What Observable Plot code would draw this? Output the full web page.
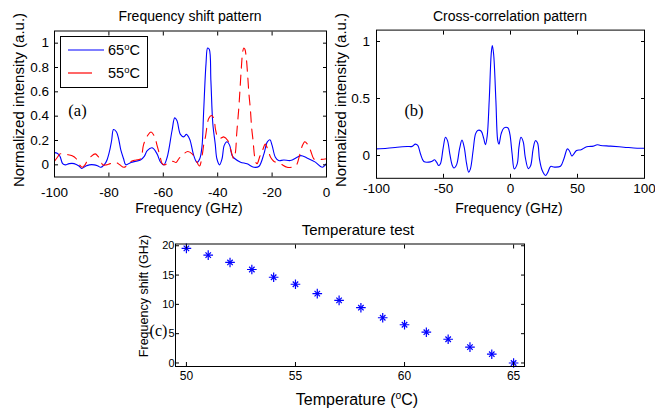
<!DOCTYPE html>
<html><head><meta charset="utf-8">
<script src="https://cdn.jsdelivr.net/npm/d3@7"></script>
<script src="https://cdn.jsdelivr.net/npm/@observablehq/plot@0.6"></script>
<style>
body{margin:0;background:#fff;}
#root{position:relative;width:655px;height:413px;background:#fff;font-family:"Liberation Sans",Arial,sans-serif;color:#000;overflow:hidden}
.abs{position:absolute;white-space:nowrap;line-height:1}
.c{transform:translate(-50%,-50%)}
.r{transform:translate(-50%,-50%) rotate(-90deg)}
.serif{font-family:"Liberation Serif","DejaVu Serif",serif}
#root svg{position:absolute}
sup{font-size:0.65em;vertical-align:0.55em;line-height:0}
</style></head><body><div id="root"></div>
<script>
// ---------- Panel (a): frequency shift pattern ----------
const freqA65 = [-100,-99,-98,-97,-96,-94.6,-92.8,-91,-90,-88.5,-87.2,-85.4,-84,-83,-81.1,-79.9,-79,-78.3,-77.2,-76.3,-75.6,-74.6,-73.8,-71.9,-70,-68.4,-67,-65.9,-64.1,-62.3,-61,-59.8,-58.6,-56.8,-55.8,-55,-53.7,-52.5,-51.5,-50.3,-48.8,-47.6,-46.6,-45.8,-45.2,-44.3,-43.7,-43.1,-42.5,-41.8,-40.9,-40.3,-39.3,-38.4,-37.6,-36.6,-35.6,-34.7,-33.9,-31.6,-29.2,-26.7,-24.9,-23,-21.8,-20.8,-20,-18.8,-17.6,-15.7,-13.3,-10.8,-9.4,-7.2,-4.1,-1.6,0];
const intA65  = [0.10,0.095,0.07,0.01,0.0,0.01,0.01,-0.01,-0.03,-0.01,0.0,0.0,-0.01,-0.02,0.02,0.10,0.2,0.29,0.27,0.2,0.12,0.05,0.0,0.02,0.03,0.04,0.07,0.117,0.14,0.09,0.021,0.0,0.06,0.28,0.386,0.364,0.25,0.23,0.25,0.21,0.076,0.02,0.05,0.145,0.42,0.83,0.96,0.95,0.69,0.34,0.17,0.05,0.0,0.05,0.16,0.19,0.16,0.076,0.054,0.022,0.008,-0.02,-0.014,0.09,0.187,0.206,0.16,0.062,0.035,0.04,0.035,0.062,0.076,0.057,0.022,-0.02,0.013];
const freqA55 = [-100,-99,-98,-97,-95.5,-93.5,-92,-90.8,-89.8,-88.8,-88,-86.5,-85,-84,-83,-82.3,-81,-79.5,-77.5,-76,-74.5,-73,-71.7,-70,-68.4,-67.2,-65.8,-64.5,-63.2,-62.3,-61.2,-60.4,-59.5,-58,-56.5,-55.3,-54.3,-52.5,-51,-49.4,-48,-46.7,-45.7,-45.1,-44.5,-43.3,-42.3,-41.4,-40.8,-39.8,-38.8,-37.8,-36.3,-35.3,-34.1,-33.5,-33,-32.3,-31.8,-31.3,-30.8,-30.4,-30,-29.5,-29,-28.5,-28,-27.5,-27,-26.5,-26,-25.5,-24.5,-23.5,-22.5,-21.5,-20.5,-19.4,-17,-14.5,-12.1,-11,-10,-9,-8,-7,-5.9,-4.7,-4.1,-2,0];
const intA55  = [0.03,0.06,0.09,0.09,0.085,0.075,0.05,0.0,-0.02,0.0,0.03,0.07,0.09,0.07,0.04,0.0,0.0,0.01,0.02,0.0,-0.02,0.0,0.03,0.04,0.05,0.17,0.24,0.27,0.23,0.16,0.07,0.01,0.0,0.02,0.03,0.02,0.05,0.09,0.11,0.09,0.04,-0.01,0.08,0.17,0.23,0.38,0.405,0.38,0.29,0.22,0.22,0.23,0.2,0.13,0.05,0.1,0.26,0.45,0.62,0.8,0.93,0.96,0.95,0.88,0.74,0.58,0.46,0.3,0.2,0.08,0.02,0.01,0.07,0.12,0.17,0.12,0.06,0.03,0.01,-0.02,-0.015,0.0,0.07,0.15,0.19,0.17,0.12,0.05,0.045,0.045,0.05];
const seriesTempsA = [65, 55];
const ticksAX = [-100,-80,-60,-40,-20,0];
const ticksAY = [0,0.2,0.4,0.6,0.8,1];

// ---------- Panel (b): cross-correlation pattern ----------
const freqB = [-100,-92,-84.6,-77.1,-73.4,-71,-69.2,-67.2,-64.7,-60.9,-58.5,-56.7,-55.2,-53.5,-52.2,-50.2,-48.5,-47,-45.3,-43.5,-42.2,-40.2,-38,-36.2,-34.5,-32.8,-31.2,-29.9,-27.9,-26.1,-24.5,-22,-20,-18.7,-17.4,-15.9,-14.4,-13.6,-12.6,-10.9,-9.5,-8.6,-7,-5,-2,-0.5,1.2,2.8,5,6.3,7.8,9.5,11,13.3,15,16.9,18.6,20.2,21.6,23.6,26.1,27.9,29.9,32.8,37.3,39.8,42.5,44,45.8,47.3,49.3,52.7,56,58.5,61.7,64.7,67.2,74.6,84.6,94.5,100];
const intB  = [0.058,0.064,0.073,0.079,0.08,0.10,0.088,0.015,-0.053,-0.058,-0.05,-0.038,-0.058,-0.088,-0.07,0.07,0.16,0.13,0.015,-0.085,-0.11,-0.08,0.06,0.135,0.07,-0.07,-0.146,-0.117,0.044,0.19,0.22,0.215,0.15,0.095,0.17,0.48,0.89,0.965,0.89,0.48,0.13,0.10,0.19,0.24,0.243,0.19,0.015,-0.117,-0.073,0.073,0.16,0.12,-0.015,-0.115,-0.09,0.058,0.13,0.11,-0.03,-0.13,-0.175,-0.146,-0.096,-0.102,-0.094,-0.03,0.058,0.04,-0.005,0.015,0.044,0.05,0.073,0.079,0.082,0.094,0.088,0.082,0.073,0.064,0.064];
const ticksBX = [-100,-50,0,50,100];
const ticksBY = [0,0.5,1];

// ---------- Panel (c): temperature test ----------
const temps  = [50,51,52,53,54,55,56,57,58,59,60,61,62,63,64,65];
const shifts = [19.55,18.4,17.15,15.95,14.63,13.43,11.83,10.68,9.43,7.72,6.52,5.25,4.05,2.7,1.5,0];
const ticksCX = [50,55,60,65];
const ticksCY = [0,5,10,15,20];

const root = document.getElementById("root");
const FONT = "'Liberation Sans', Arial, sans-serif";
const fmt = d => String(d);
const blank = () => "";

function boxAxes(tx, ty, o) {
  return [
    Plot.frame({stroke: "#000", strokeWidth: 1}),
    Plot.axisX(tx, {anchor: "bottom", tickSize: -4, tickPadding: o.xPad, tickFormat: fmt, label: null, fontSize: o.xFont}),
    Plot.axisX(tx, {anchor: "top", tickSize: -4, tickFormat: blank, label: null}),
    Plot.axisY(ty, {anchor: "left", tickSize: -4, tickPadding: o.yPad, tickFormat: fmt, label: null, fontSize: o.yFont}),
    Plot.axisY(ty, {anchor: "right", tickSize: -4, tickFormat: blank, label: null})
  ];
}

function place(svg, left, top) {
  svg.style.left = left + "px";
  svg.style.top = top + "px";
  root.appendChild(svg);
}

// Panel A
const dA65 = freqA65.map((f, i) => ({f, v: intA65[i]}));
const dA55 = freqA55.map((f, i) => ({f, v: intA55[i]}));
const pA = Plot.plot({
  width: 340, height: 220,
  marginLeft: 54, marginRight: 14, marginTop: 30.5, marginBottom: 43.5,
  style: {fontFamily: FONT, fontSize: "13.5px", background: "transparent", color: "#000", overflow: "visible"},
  x: {domain: [-100, 0]},
  y: {domain: [-0.1, 1.1]},
  marks: [
    Plot.line(dA65, {x: "f", y: "v", stroke: "#0000ff", strokeWidth: 1.1, curve: "catmull-rom"}),
    Plot.line(dA55, {x: "f", y: "v", stroke: "#ff0000", strokeWidth: 1.1, strokeDasharray: "10,7", curve: "catmull-rom"}),
    ...boxAxes(ticksAX, ticksAY, {xPad: 14.5, yPad: 9.5, xFont: 13.5, yFont: 13.5})
  ]
});
place(pA, 0, 0);

// Panel B
const dB = freqB.map((f, i) => ({f, v: intB[i]}));
const pB = Plot.plot({
  width: 325, height: 220,
  marginLeft: 46, marginRight: 11, marginTop: 29.6, marginBottom: 42.2,
  style: {fontFamily: FONT, fontSize: "13.5px", background: "transparent", color: "#000", overflow: "visible"},
  x: {domain: [-100, 100]},
  y: {domain: [-0.2, 1.1]},
  marks: [
    Plot.line(dB, {x: "f", y: "v", stroke: "#0000ff", strokeWidth: 1.1, curve: "catmull-rom"}),
    ...boxAxes(ticksBX, ticksBY, {xPad: 9.5, yPad: 10.5, xFont: 13.5, yFont: 13.5})
  ]
});
place(pB, 330, 0);

// Panel C
const dC = temps.map((t, i) => ({t, s: shifts[i]}));
const pC = Plot.plot({
  width: 400, height: 180,
  marginLeft: 45, marginRight: 6, marginTop: 13.5, marginBottom: 44,
  style: {fontFamily: FONT, fontSize: "12px", background: "transparent", color: "#000", overflow: "visible"},
  x: {domain: [49.5, 65.5]},
  y: {domain: [-0.6, 20.3]},
  marks: [
    Plot.dot(dC, {x: "t", y: "s", symbol: "plus", r: 3.2, stroke: "#0000ff", strokeWidth: 1.2}),
    Plot.dot(dC, {x: "t", y: "s", symbol: "times", r: 2.6, stroke: "#0000ff", strokeWidth: 1.2}),
    ...boxAxes(ticksCX, ticksCY, {xPad: 8.5, yPad: 5, xFont: 12, yFont: 11})
  ]
});
place(pC, 130, 230);

// ---------- Text ----------
function txt(html, x, y, cls, size, extra) {
  const d = document.createElement("div");
  d.className = "abs " + cls;
  d.style.left = x + "px";
  d.style.top = y + "px";
  d.style.fontSize = size + "px";
  if (extra) Object.assign(d.style, extra);
  d.innerHTML = html;
  root.appendChild(d);
  return d;
}
txt("Frequency shift pattern", 190, 16, "c", 14);
txt("Cross-correlation pattern", 510, 15.5, "c", 14);
txt("Frequency (GHz)", 189, 208, "c", 14);
txt("Frequency (GHz)", 509, 208, "c", 14);
txt("Normalized intensity (a.u.)", 18, 100, "r", 15);
txt("Normalized intensity (a.u.)", 340, 100, "r", 15);
txt("Temperature test", 358, 229, "c", 15);
txt("Temperature (<sup>o</sup>C)", 357, 400, "c", 16);
txt("Frequency shift (GHz)", 144, 296, "r", 12.5);
txt("(c)", 158.5, 331, "c serif", 16);
txt("(a)", 77.5, 111, "c serif", 16.5);
txt("(b)", 414, 111, "c serif", 16.5);

// ---------- Legend for panel (a) ----------
const lg = document.createElement("div");
lg.className = "abs";
Object.assign(lg.style, {left: "60px", top: "36px", width: "86px", height: "50px", border: "1px solid #000", background: "#fff"});
root.appendChild(lg);
const legendColors = ["#0000ff", "#ff0000"];
const legendLen = [36, 24];
seriesTempsA.forEach((t, i) => {
  const y = 12.5 + i * 23;
  const s = document.createElementNS("http://www.w3.org/2000/svg", "svg");
  s.setAttribute("width", "40"); s.setAttribute("height", "4");
  Object.assign(s.style, {position: "absolute", left: "7px", top: (y - 2) + "px"});
  const ln = document.createElementNS("http://www.w3.org/2000/svg", "line");
  ln.setAttribute("x1", 0); ln.setAttribute("x2", legendLen[i]);
  ln.setAttribute("y1", 2); ln.setAttribute("y2", 2);
  ln.setAttribute("stroke", legendColors[i]); ln.setAttribute("stroke-width", 1.2);
  s.appendChild(ln);
  lg.appendChild(s);
  const tx = document.createElement("div");
  tx.className = "abs";
  Object.assign(tx.style, {left: "47px", top: (y - 7) + "px", fontSize: "14.5px"});
  tx.innerHTML = t + "<sup>o</sup>C";
  lg.appendChild(tx);
});
</script></body></html>
